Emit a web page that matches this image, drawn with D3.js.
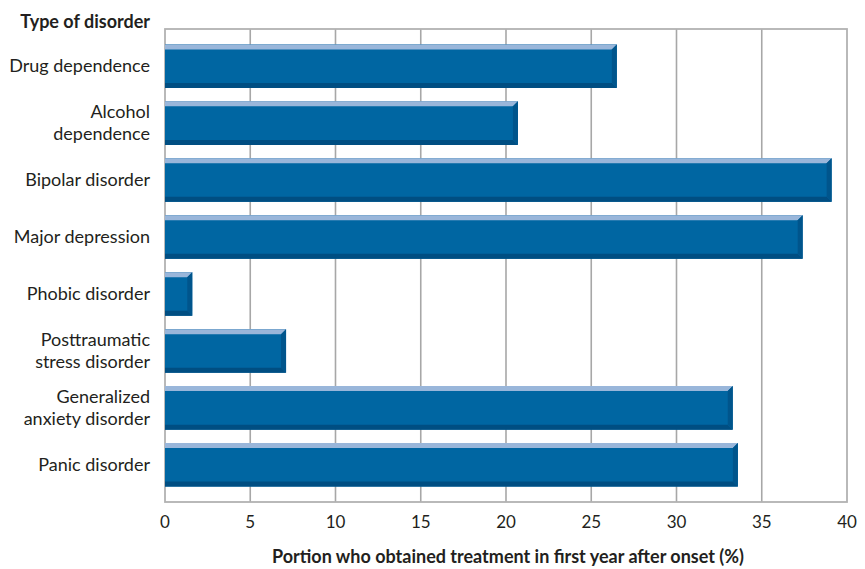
<!DOCTYPE html>
<html>
<head>
<meta charset="utf-8">
<script src="https://cdn.jsdelivr.net/npm/d3@7"></script>
<style>
  html, body { margin: 0; padding: 0; background: #fff; }
  svg { display: block; }
  text { font-family: Lato, "Open Sans", sans-serif; fill: #231f20; }
</style>
</head>
<body>
<svg id="chart" width="865" height="569"></svg>
<script>
// Disorder categories, top to bottom (multi-line labels split on "\n")
const categories = [
  "Drug dependence",
  "Alcohol\ndependence",
  "Bipolar disorder",
  "Major depression",
  "Phobic disorder",
  "Posttraumatic\nstress disorder",
  "Generalized\nanxiety disorder",
  "Panic disorder"
];
// Percent who obtained treatment in the first year after onset
const values = [26.5, 20.7, 39.1, 37.4, 1.6, 7.1, 33.3, 33.6];
const xTicks = [0, 5, 10, 15, 20, 25, 30, 35, 40];

const svg = d3.select("#chart");
const plot = { left: 165, right: 847, top: 29, bottom: 502 };

const x = d3.scaleLinear().domain([0, 40]).range([plot.left, plot.right]);
const y = d3.scaleBand().domain(categories).range([plot.top, plot.bottom])
  .paddingInner(0.235).paddingOuter(0.27);

// Vertical gridlines
svg.append("g").selectAll("line").data(xTicks.slice(1, -1)).join("line")
  .attr("x1", d => x(d)).attr("x2", d => x(d))
  .attr("y1", plot.top).attr("y2", plot.bottom)
  .attr("stroke", "#a7a7a7").attr("stroke-width", 1.6);

// Plot frame
svg.append("rect")
  .attr("x", plot.left).attr("y", plot.top)
  .attr("width", plot.right - plot.left).attr("height", plot.bottom - plot.top)
  .attr("fill", "none").attr("stroke", "#b2b2b2").attr("stroke-width", 1.8);

// Bevelled bars
const d = 5;
const bars = svg.append("g").selectAll("g").data(categories).join("g");
bars.each(function (c, i) {
  const g = d3.select(this);
  const x0 = x(0), x1 = x(values[i]);
  const y0 = y(c), y1 = y(c) + y.bandwidth();
  g.append("rect").attr("x", x0).attr("y", y0)
    .attr("width", x1 - x0).attr("height", y1 - y0).attr("fill", "#0066a2");
  g.append("polygon").attr("fill", "#99b6da")
    .attr("points", [[x0, y0], [x1, y0], [x1 - d, y0 + d], [x0, y0 + d]].join(" "));
  g.append("polygon").attr("fill", "#004e82")
    .attr("points", [[x0, y1], [x1, y1], [x1 - d, y1 - d], [x0, y1 - d]].join(" "));
  g.append("polygon").attr("fill", "#00558c")
    .attr("points", [[x1, y0], [x1, y1], [x1 - d, y1 - d], [x1 - d, y0 + d]].join(" "));
});

// Category labels
const labels = svg.append("g").selectAll("text").data(categories).join("text")
  .attr("text-anchor", "end")
  .attr("font-size", 18);
labels.each(function (c) {
  const lines = c.split("\n");
  const cy = y(c) + y.bandwidth() / 2;
  const lh = 22;
  const t = d3.select(this);
  lines.forEach((ln, k) => {
    t.append("tspan").attr("x", 150)
      .attr("y", cy + 6 + (k - (lines.length - 1) / 2) * lh)
      .text(ln);
  });
});

// X tick labels
svg.append("g").selectAll("text").data(xTicks).join("text")
  .attr("x", d => x(d)).attr("y", 528)
  .attr("text-anchor", "middle").attr("font-size", 17)
  .text(d => d);

// Titles
svg.append("text").attr("x", 150).attr("y", 28)
  .attr("text-anchor", "end").attr("font-size", 18).attr("font-weight", "bold")
  .text("Type of disorder");
svg.append("text").attr("x", 508).attr("y", 563)
  .attr("text-anchor", "middle").attr("font-size", 18).attr("font-weight", "bold")
  .text("Portion who obtained treatment in first year after onset (%)");
</script>
</body>
</html>
